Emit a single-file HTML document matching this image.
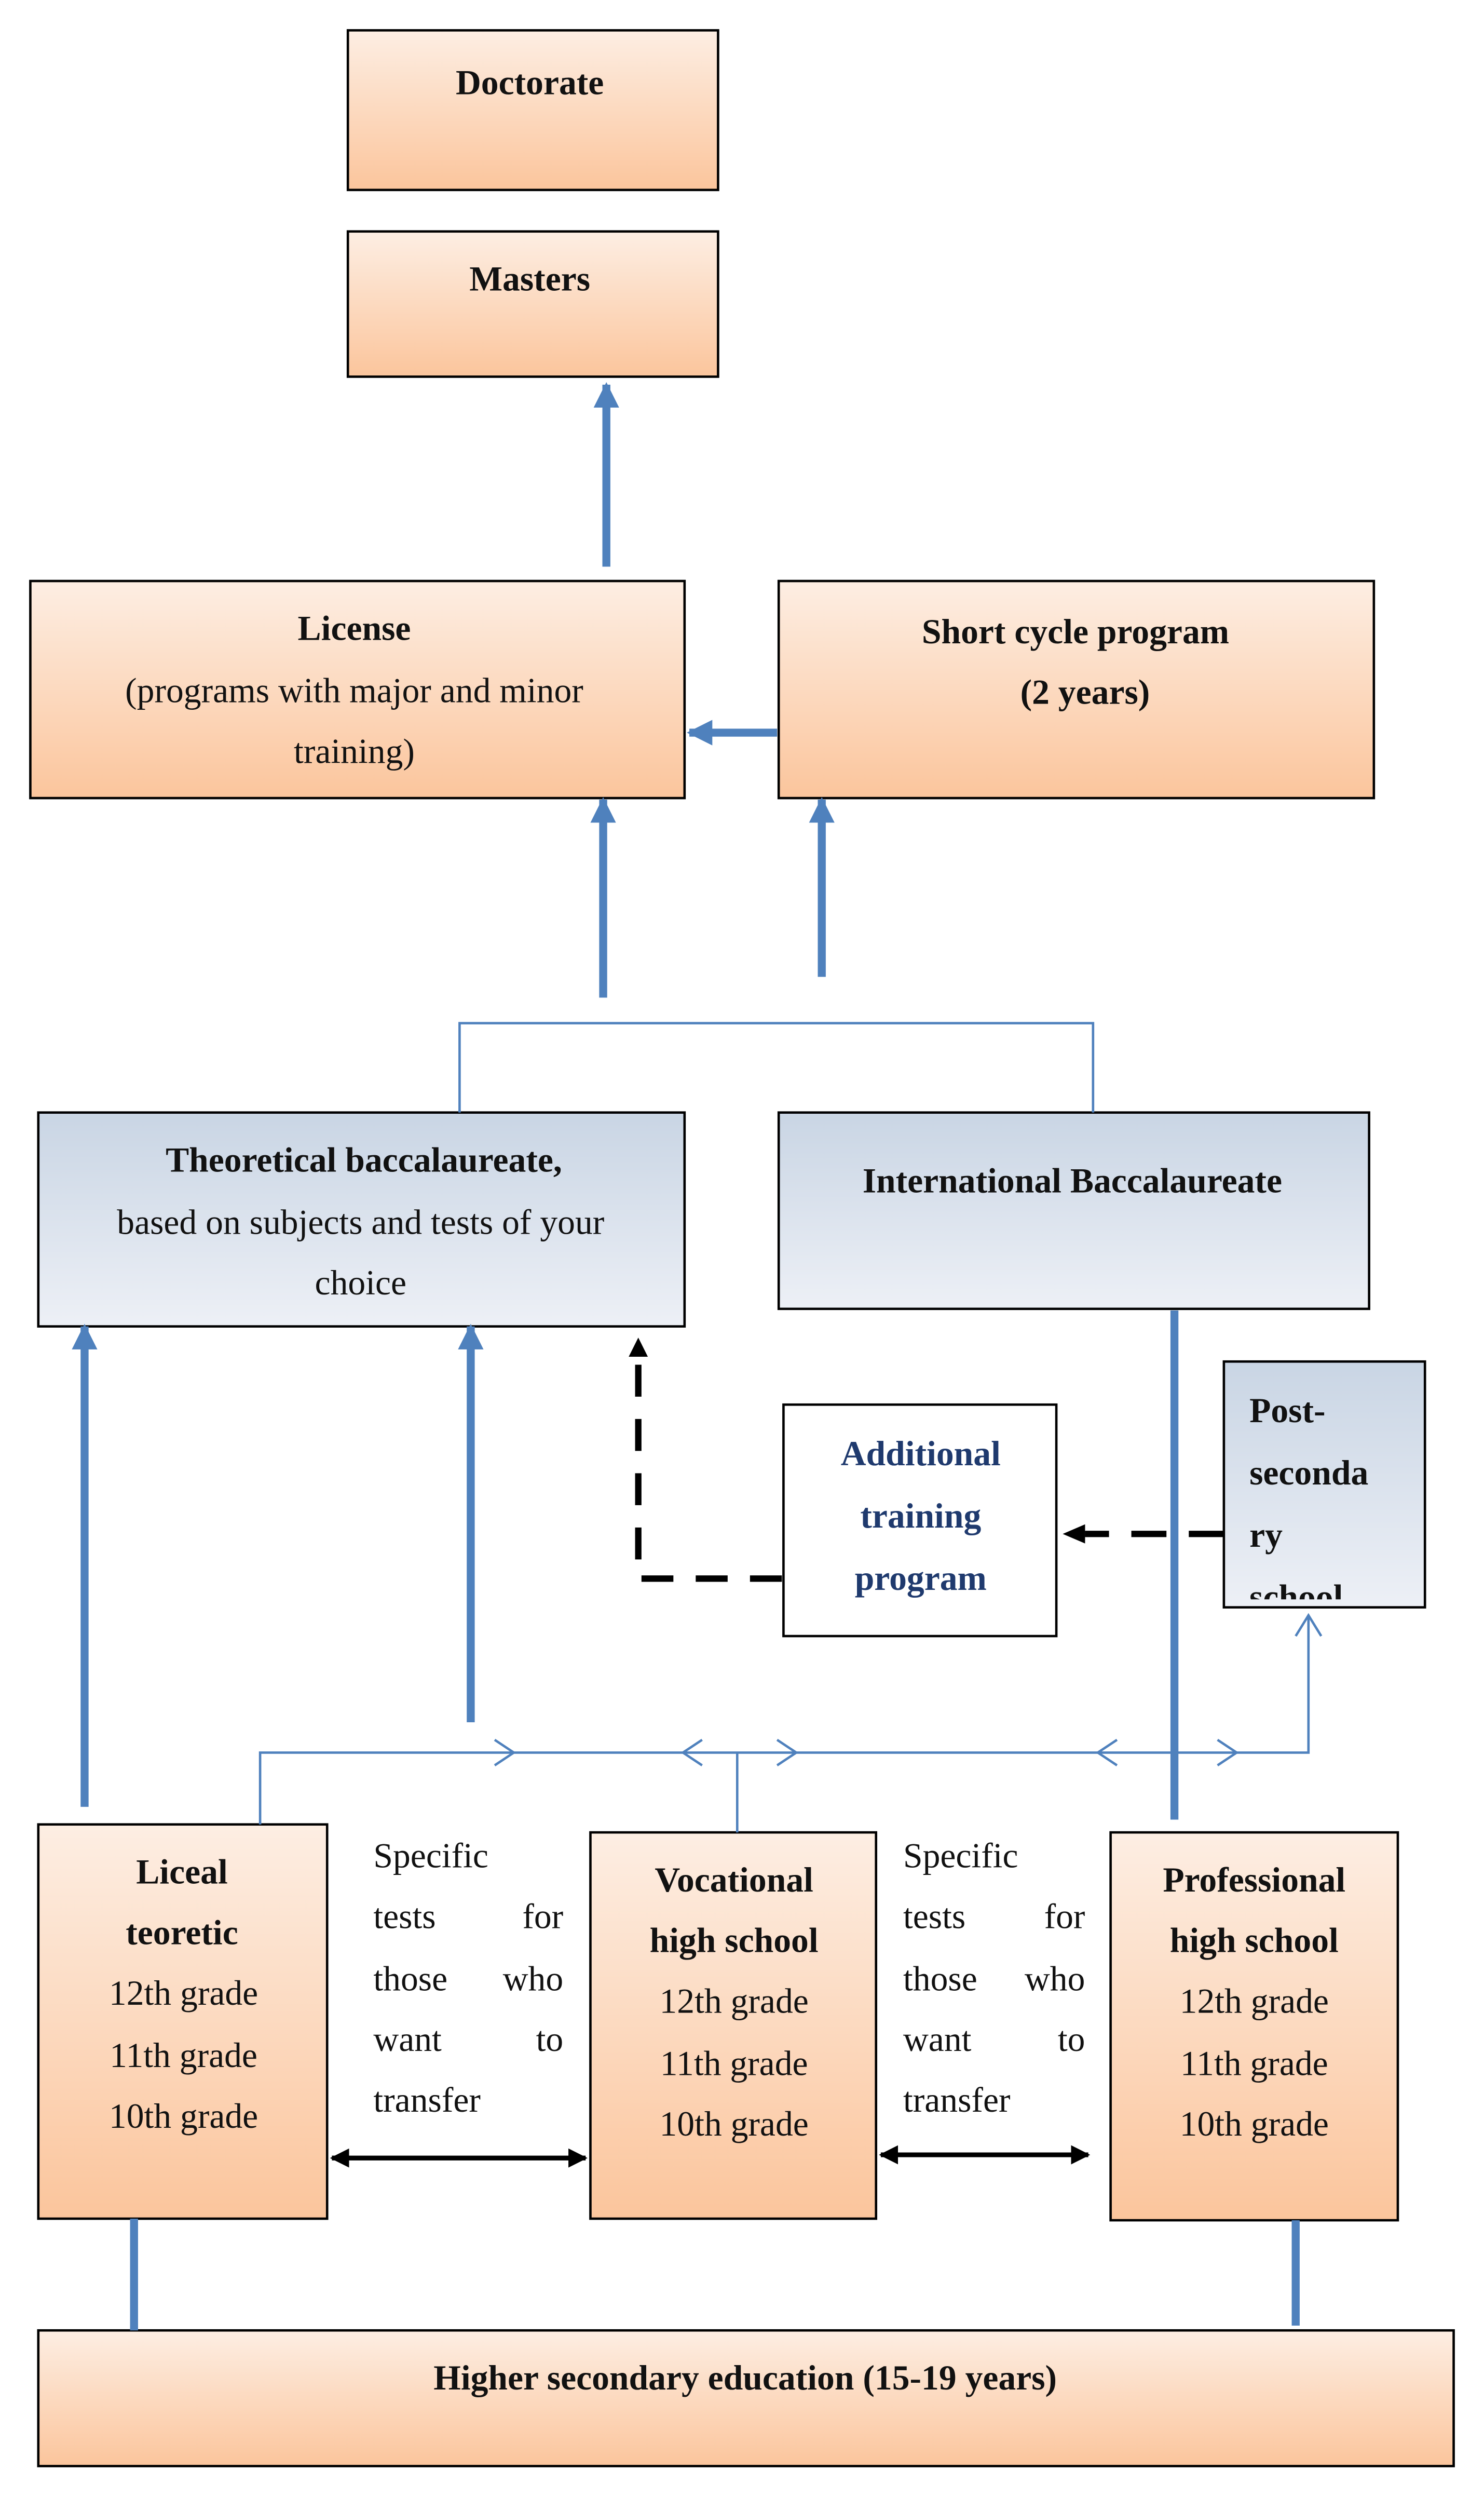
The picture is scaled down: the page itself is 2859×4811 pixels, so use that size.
<!DOCTYPE html>
<html><head><meta charset="utf-8"><style>
html,body{margin:0;padding:0;background:#fff}
svg{display:block}
text{font-family:"Liberation Serif",serif;font-size:22px;fill:#111}
.b{font-weight:bold}
.nv{fill:#1f3a6e}
</style></head><body>
<svg width="2859" height="4811" viewBox="0 0 930 1565" xmlns="http://www.w3.org/2000/svg">
<defs>
<linearGradient id="o" x1="0" y1="0" x2="0" y2="1"><stop offset="0" stop-color="#fdeee3"/><stop offset="1" stop-color="#fbc59c"/></linearGradient>
<linearGradient id="bl" x1="0" y1="0" x2="0" y2="1"><stop offset="0" stop-color="#c9d5e4"/><stop offset="1" stop-color="#edf0f6"/></linearGradient>
<marker id="ba" viewBox="0 0 10 10" refX="9" refY="5" markerWidth="3.2" markerHeight="3.2" orient="auto"><path d="M0,0 L10,5 L0,10 Z" fill="#4f81bd"/></marker>
<marker id="ka" viewBox="0 0 10 10" refX="9" refY="5" markerWidth="4" markerHeight="4" orient="auto-start-reverse"><path d="M0,0 L10,5 L0,10 Z" fill="#000"/></marker>
</defs>
<g stroke="#000" stroke-width="1.5">
<rect x="218" y="19" width="232" height="100" fill="url(#o)"/>
<rect x="218" y="145" width="232" height="91" fill="url(#o)"/>
<rect x="19" y="364" width="410" height="136" fill="url(#o)"/>
<rect x="488" y="364" width="373" height="136" fill="url(#o)"/>
<rect x="24" y="697" width="405" height="134" fill="url(#bl)"/>
<rect x="488" y="697" width="370" height="123" fill="url(#bl)"/>
<rect x="491" y="880" width="171" height="145" fill="#fff"/>
<rect x="767" y="853" width="126" height="154" fill="url(#bl)"/>
<rect x="24" y="1143" width="181" height="247" fill="url(#o)"/>
<rect x="370" y="1148" width="179" height="242" fill="url(#o)"/>
<rect x="696" y="1148" width="180" height="243" fill="url(#o)"/>
<rect x="24" y="1460" width="887" height="85" fill="url(#o)"/>
</g>
<g stroke="#4f81bd" stroke-width="5" fill="none">
<line x1="380" y1="355" x2="380" y2="241" marker-end="url(#ba)"/>
<line x1="487" y1="459" x2="432" y2="459" marker-end="url(#ba)"/>
<line x1="378" y1="625" x2="378" y2="501" marker-end="url(#ba)"/>
<line x1="515" y1="612" x2="515" y2="501" marker-end="url(#ba)"/>
<line x1="53" y1="1132" x2="53" y2="831" marker-end="url(#ba)"/>
<line x1="295" y1="1079" x2="295" y2="831" marker-end="url(#ba)"/>
<line x1="736" y1="1140" x2="736" y2="821"/>
<line x1="84" y1="1390" x2="84" y2="1460"/>
<line x1="812" y1="1391" x2="812" y2="1457"/>
</g>
<g stroke="#4f81bd" stroke-width="1.5" fill="none">
<polyline points="288,697 288,641 685,641 685,697"/>
<polyline points="163,1143 163,1098 820,1098 820,1012"/>
<line x1="462" y1="1098" x2="462" y2="1148"/>
<polyline points="310,1090 322,1098 310,1106"/>
<polyline points="440,1090 428,1098 440,1106"/>
<polyline points="487,1090 499,1098 487,1106"/>
<polyline points="700,1090 688,1098 700,1106"/>
<polyline points="763,1090 775,1098 763,1106"/>
<polyline points="812,1025 820,1012 828,1025"/>
</g>
<g stroke="#000" stroke-width="4" fill="none">
<polyline points="490,989 400,989 400,850" stroke-dasharray="20,14"/>
<path d="M394,850 L400,838 L406,850 Z" fill="#000" stroke="none"/>
<line x1="767" y1="961" x2="680" y2="961" stroke-dasharray="22,14"/>
<path d="M680,955 L666,961 L680,967 Z" fill="#000" stroke="none"/>
<line x1="208" y1="1352" x2="367" y2="1352" stroke-width="3" marker-start="url(#ka)" marker-end="url(#ka)"/>
<line x1="552" y1="1350" x2="682" y2="1350" stroke-width="3" marker-start="url(#ka)" marker-end="url(#ka)"/>
</g>
<g text-anchor="middle">
<text x="332" y="59" class="b">Doctorate</text>
<text x="332" y="182" class="b">Masters</text>
<text x="222" y="401" class="b">License</text>
<text x="222" y="440">(programs with major and minor</text>
<text x="222" y="478">training)</text>
<text x="674" y="403" class="b">Short cycle program</text>
<text x="680" y="441" class="b">(2 years)</text>
<text x="228" y="734" class="b">Theoretical baccalaureate,</text>
<text x="226" y="773">based on subjects and tests of your</text>
<text x="226" y="811">choice</text>
<text x="672" y="747" class="b">International Baccalaureate</text>
<text x="577" y="918" class="b nv">Additional</text>
<text x="577" y="957" class="b nv">training</text>
<text x="577" y="996" class="b nv">program</text>
<text x="114" y="1180" class="b">Liceal</text>
<text x="114" y="1218" class="b">teoretic</text>
<text x="115" y="1256">12th grade</text>
<text x="115" y="1295">11th grade</text>
<text x="115" y="1333">10th grade</text>
<text x="460" y="1185" class="b">Vocational</text>
<text x="460" y="1223" class="b">high school</text>
<text x="460" y="1261">12th grade</text>
<text x="460" y="1300">11th grade</text>
<text x="460" y="1338">10th grade</text>
<text x="786" y="1185" class="b">Professional</text>
<text x="786" y="1223" class="b">high school</text>
<text x="786" y="1261">12th grade</text>
<text x="786" y="1300">11th grade</text>
<text x="786" y="1338">10th grade</text>
<text x="467" y="1497" class="b">Higher secondary education (15-19 years)</text>
</g>
<text x="783" y="891" class="b">Post-</text>
<text x="783" y="930" class="b">seconda</text>
<text x="783" y="969" class="b">ry</text>
<svg x="767" y="853" width="126" height="149"><text x="16" y="155" class="b">school</text></svg>
<g>
<text x="234" y="1170">Specific</text>
<text x="234" y="1208">tests</text><text x="353" y="1208" text-anchor="end">for</text>
<text x="234" y="1247">those</text><text x="353" y="1247" text-anchor="end">who</text>
<text x="234" y="1285">want</text><text x="353" y="1285" text-anchor="end">to</text>
<text x="234" y="1323">transfer</text>
<text x="566" y="1170">Specific</text>
<text x="566" y="1208">tests</text><text x="680" y="1208" text-anchor="end">for</text>
<text x="566" y="1247">those</text><text x="680" y="1247" text-anchor="end">who</text>
<text x="566" y="1285">want</text><text x="680" y="1285" text-anchor="end">to</text>
<text x="566" y="1323">transfer</text>
</g>
</svg>
</body></html>
